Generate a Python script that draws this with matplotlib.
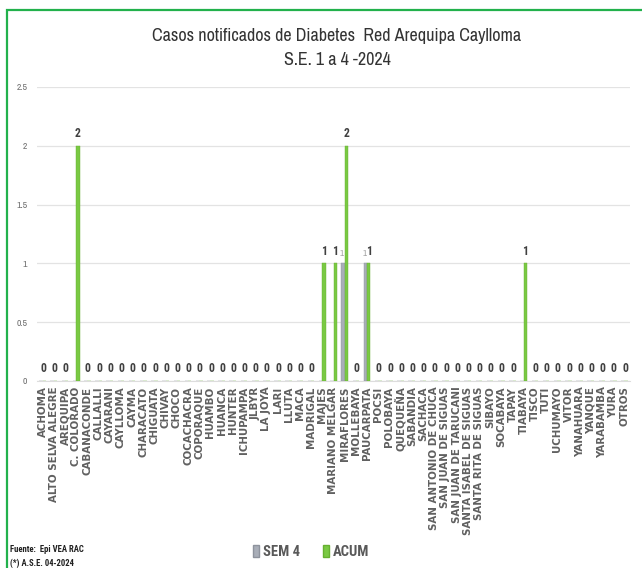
import matplotlib
matplotlib.use("Agg")
import matplotlib.pyplot as plt
import numpy as np
from matplotlib import font_manager
from matplotlib.patches import Rectangle, Patch

categories = ["ACHOMA", "ALTO SELVA ALEGRE", "AREQUIPA", "C. COLORADO", "CABANACONDE",
              "CALLALLI", "CAYARANI", "CAYLLOMA", "CAYMA", "CHARACATO", "CHIGUATA",
              "CHIVAY", "CHOCO", "COCACHACRA", "COPORAQUE", "HUAMBO", "HUANCA", "HUNTER",
              "ICHUPAMPA", "JLBYR", "LA JOYA", "LARI", "LLUTA", "MACA", "MADRIGAL", "MAJES",
              "MARIANO MELGAR", "MIRAFLORES", "MOLLEBAYA", "PAUCARPATA", "POCSI", "POLOBAYA",
              "QUEQUEÑA", "SABANDIA", "SACHACA", "SAN ANTONIO DE CHUCA", "SAN JUAN DE SIGUAS",
              "SAN JUAN DE TARUCANI", "SANTA ISABEL DE SIGUAS", "SANTA RITA DE SIGUAS",
              "SIBAYO", "SOCABAYA", "TAPAY", "TIABAYA", "TISCO", "TUTI", "UCHUMAYO", "VITOR",
              "YANAHUARA", "YANQUE", "YARABAMBA", "YURA", "OTROS"]

acum = {"C. COLORADO": 2, "MAJES": 1, "MARIANO MELGAR": 1, "MIRAFLORES": 2,
        "PAUCARPATA": 1, "TIABAYA": 1}
sem4 = {"MIRAFLORES": 1, "PAUCARPATA": 1}

acum_vals = [acum.get(c, 0) for c in categories]
sem4_vals = [sem4.get(c, 0) for c in categories]

title_lines = ["Casos notificados de Diabetes  Red Arequipa Caylloma", "S.E. 1 a 4 -2024"]
yticks = [0, 0.5, 1, 1.5, 2, 2.5]
ytick_labels = ["0", "0.5", "1", "1.5", "2", "2.5"]

avail = {f.name for f in font_manager.fontManager.ttflist}

def pick(cands):
    for c in cands:
        if c in avail:
            return c
    return "DejaVu Sans"

narrow = pick(["Archivo Narrow", "Roboto Condensed", "PT Sans Narrow"])
narrow_b = pick(["Roboto Condensed", "PT Sans Narrow", "Archivo Narrow"])

fig = plt.figure(figsize=(6.42, 5.68), dpi=100)
fig.patch.set_facecolor("white")

# green frame
fig.add_artist(Rectangle((7 / 642, -0.1), 1.2, 1 - 10 / 568 + 0.1,
                         transform=fig.transFigure, fill=False,
                         edgecolor="#22B14C", linewidth=1.6))

ax = fig.add_axes([37 / 642, 1 - 381 / 568, 593 / 642, (381 - 87) / 568])
x = np.arange(len(categories))
w = 0.3
gray = "#A9AEB8"
green = "#7AC943"
ax.bar(x - w / 2, sem4_vals, width=w, color=gray, edgecolor="#8E939D", linewidth=0.3, zorder=3)
ax.bar(x + w / 2, acum_vals, width=w, color=green, edgecolor="#66B030", linewidth=0.3, zorder=3)

for i in range(len(categories)):
    if sem4_vals[i] > 0:
        ax.text(x[i] - w / 2 - 0.1, sem4_vals[i] + 0.05, str(sem4_vals[i]), ha="center",
                va="bottom", fontsize=6.5, color="#A0A0A0", family=narrow)
    if acum_vals[i] == 0:
        ax.text(x[i] + 0.05, 0.05, "0", ha="center", va="bottom", fontsize=8.5,
                fontweight="bold", color="#404040", family=narrow_b)
    else:
        ax.text(x[i] + w / 2, acum_vals[i] + 0.05, str(acum_vals[i]), ha="center",
                va="bottom", fontsize=8.5, fontweight="bold", color="#404040", family=narrow_b)

ax.set_xlim(-0.5, len(categories) - 0.5)
ax.set_ylim(0, 2.5)
ax.set_yticks(yticks)
ax.set_yticklabels(ytick_labels, fontsize=7, color="#707070", family=narrow)
ax.set_xticks(x)
ax.set_xticklabels(categories, rotation=90, fontsize=7.4, fontweight="bold", color="#606060")
ax.tick_params(axis="both", length=0)
ax.tick_params(axis="y", pad=7)
ax.tick_params(axis="x", pad=4)
ax.grid(axis="y", color="#E3E3E3", linewidth=0.9, zorder=0)
for s in ["left", "right", "top"]:
    ax.spines[s].set_visible(False)
ax.spines["bottom"].set_color("#DDDDDD")

fig.text(337 / 642, 1 - 36 / 568, title_lines[0], ha="center", va="center",
         fontsize=13, color="#333333", family=narrow)
fig.text(337 / 642, 1 - 60 / 568, title_lines[1], ha="center", va="center",
         fontsize=13, color="#333333", family=narrow)

fig.text(10 / 642, 1 - 550 / 568, "Fuente:  Epi VEA RAC", ha="left", va="center",
         fontsize=6.2, fontweight="bold", color="#202020", family=narrow_b)
fig.text(10 / 642, 1 - 563 / 568, "(*) A.S.E. 04-2024", ha="left", va="center",
         fontsize=6.2, fontweight="bold", color="#202020", family=narrow_b)

handles = [Patch(facecolor=gray, edgecolor="#8E939D", label="SEM 4"),
           Patch(facecolor=green, edgecolor="#66B030", label="ACUM")]
leg = fig.legend(handles=handles, loc="center", bbox_to_anchor=(311 / 642, 1 - 552 / 568),
                 ncol=2, frameon=False, handlelength=0.4, handleheight=0.9,
                 handletextpad=0.25, columnspacing=1.6,
                 prop={"family": narrow_b, "weight": "bold", "size": 10.5})
for t in leg.get_texts():
    t.set_color("#595959")

fig.savefig("out.png", dpi=100, facecolor="white")
